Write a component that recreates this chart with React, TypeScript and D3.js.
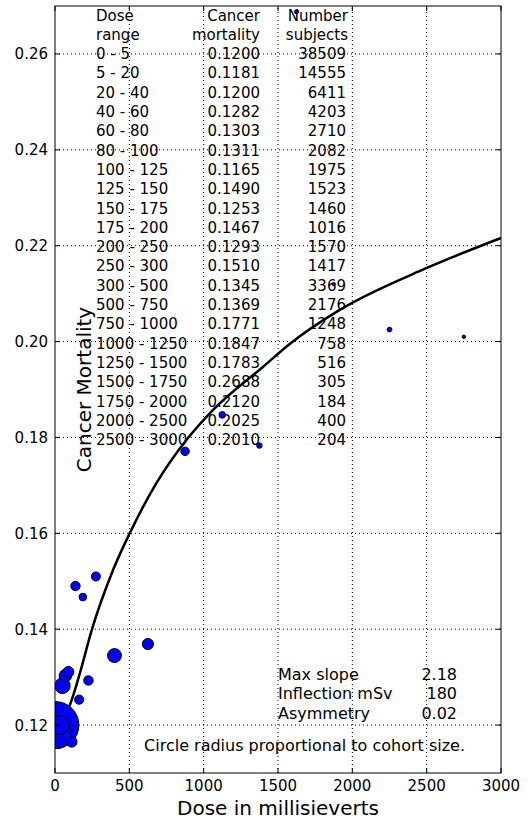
import * as d3 from "d3";
import React, { useEffect, useRef } from "react";

// dose bins and cohort table
const doseRanges = [
  "0 - 5", "5 - 20", "20 - 40", "40 - 60", "60 - 80", "80 - 100", "100 - 125",
  "125 - 150", "150 - 175", "175 - 200", "200 - 250", "250 - 300", "300 - 500",
  "500 - 750", "750 - 1000", "1000 - 1250", "1250 - 1500", "1500 - 1750",
  "1750 - 2000", "2000 - 2500", "2500 - 3000",
];
const meanDose = [
  2.5, 12.5, 30, 50, 70, 90, 112.5, 137.5, 162.5, 187.5, 225, 275, 400, 625,
  875, 1125, 1375, 1625, 1875, 2250, 2750,
];
const mortality = [
  0.12, 0.1181, 0.12, 0.1282, 0.1303, 0.1311, 0.1165, 0.149, 0.1253, 0.1467,
  0.1293, 0.151, 0.1345, 0.1369, 0.1771, 0.1847, 0.1783, 0.2688, 0.212, 0.2025,
  0.201,
];
const subjects = [
  38509, 14555, 6411, 4203, 2710, 2082, 1975, 1523, 1460, 1016, 1570, 1417,
  3369, 2176, 1248, 758, 516, 305, 184, 400, 204,
];

// fitted curve
const fitDose = [0, 50, 112, 168, 247, 390, 504, 683, 885, 1062, 1398, 1579, 1915, 2497, 3000];
const fitMort = [
  0.12, 0.1208, 0.1252, 0.1309, 0.1398, 0.1523, 0.1601, 0.1705, 0.1795, 0.1857,
  0.1947, 0.1995, 0.2066, 0.2153, 0.2216,
];

const xTicks = [0, 500, 1000, 1500, 2000, 2500, 3000];
const yTicks = [0.12, 0.14, 0.16, 0.18, 0.2, 0.22, 0.24, 0.26];

const statLabels = ["Max slope", "Inflection mSv", "Asymmetry"];
const statValues = ["2.18", "180", "0.02"];

const FONT = "'DejaVu Sans', 'Bitstream Vera Sans', sans-serif";

export default function App() {
  const svgRef = useRef<SVGSVGElement>(null);
  const width = 532;
  const height = 821;
  const marginLeft = 55;
  const marginRight = 31;
  const marginTop = 6;
  const marginBottom = 48;

  useEffect(() => {
    if (!svgRef.current) return;
    const svg = d3.select(svgRef.current);
    svg.selectAll("*").remove();

    const x = d3.scaleLinear([0, 3000], [marginLeft, width - marginRight]);
    const y = d3.scaleLinear([0.11, 0.27], [height - marginBottom, marginTop]);
    const [x0, x1] = x.range();
    const [y0, y1] = y.range();

    svg
      .append("defs")
      .append("clipPath")
      .attr("id", "plot-clip")
      .append("rect")
      .attr("x", x0)
      .attr("y", y1)
      .attr("width", x1 - x0)
      .attr("height", y0 - y1);

    // grid
    const grid = svg.append("g").attr("stroke", "#000").attr("stroke-dasharray", "1,3");
    xTicks.slice(1, -1).forEach((t) => {
      grid.append("line").attr("x1", x(t)).attr("x2", x(t)).attr("y1", y0).attr("y2", y1);
    });
    yTicks.forEach((t) => {
      grid.append("line").attr("x1", x0).attr("x2", x1).attr("y1", y(t)).attr("y2", y(t));
    });

    // table text
    const table = svg.append("g").style("font-family", FONT).attr("font-size", 15).attr("fill", "#000");
    const lineH = 19.3;
    const base = 20.5;
    const colDose = 96;
    const colMort = 260;
    const colNum = 347;
    ["Dose", "range"].forEach((s, i) =>
      table.append("text").attr("x", colDose).attr("y", base + i * lineH).text(s)
    );
    ["Cancer", "mortality"].forEach((s, i) =>
      table.append("text").attr("x", colMort).attr("y", base + i * lineH).attr("text-anchor", "end").text(s)
    );
    ["Number", "subjects"].forEach((s, i) =>
      table.append("text").attr("x", colNum + 1).attr("y", base + i * lineH).attr("text-anchor", "end").text(s)
    );
    doseRanges.forEach((r, i) => {
      const yy = base + (i + 2) * lineH;
      table.append("text").attr("x", colDose).attr("y", yy).text(r);
      table.append("text").attr("x", colMort).attr("y", yy).attr("text-anchor", "end").text(mortality[i].toFixed(4));
      table.append("text").attr("x", colNum - 1).attr("y", yy).attr("text-anchor", "end").text(String(subjects[i]));
    });

    // fit stats
    const notes = svg.append("g").style("font-family", FONT).attr("font-size", 16).attr("fill", "#000");
    statLabels.forEach((s, i) => {
      const yy = 680 + i * lineH;
      notes.append("text").attr("x", 278).attr("y", yy).text(s);
      notes.append("text").attr("x", 457).attr("y", yy).attr("text-anchor", "end").text(statValues[i]);
    });
    notes
      .append("text")
      .attr("x", 465)
      .attr("y", 751)
      .attr("text-anchor", "end")
      .text("Circle radius proportional to cohort size.");

    // fitted curve
    const line = d3
      .line<number>()
      .x((_, i) => x(fitDose[i]))
      .y((d) => y(d))
      .curve(d3.curveMonotoneX);
    svg
      .append("path")
      .attr("d", line(fitMort))
      .attr("fill", "none")
      .attr("stroke", "#000")
      .attr("stroke-width", 2.5);

    // cohort circles, area ~ cohort size
    const r = d3.scaleSqrt([0, 38509], [0, 23.5]);
    svg
      .append("g")
      .attr("clip-path", "url(#plot-clip)")
      .selectAll("circle")
      .data(meanDose)
      .join("circle")
      .attr("cx", (d) => x(d))
      .attr("cy", (_, i) => y(mortality[i]))
      .attr("r", (_, i) => r(subjects[i]))
      .attr("fill", "#0000ff")
      .attr("stroke", "#000")
      .attr("stroke-width", 1);

    // frame + ticks
    svg
      .append("rect")
      .attr("x", x0)
      .attr("y", y1)
      .attr("width", x1 - x0)
      .attr("height", y0 - y1)
      .attr("fill", "none")
      .attr("stroke", "#000")
      .attr("stroke-width", 1);

    const tk = svg.append("g").attr("stroke", "#000");
    const tl = 5;
    xTicks.forEach((t) => {
      tk.append("line").attr("x1", x(t)).attr("x2", x(t)).attr("y1", y0).attr("y2", y0 - tl);
      tk.append("line").attr("x1", x(t)).attr("x2", x(t)).attr("y1", y1).attr("y2", y1 + tl);
    });
    yTicks.forEach((t) => {
      tk.append("line").attr("x1", x0).attr("x2", x0 + tl).attr("y1", y(t)).attr("y2", y(t));
      tk.append("line").attr("x1", x1).attr("x2", x1 - tl).attr("y1", y(t)).attr("y2", y(t));
    });

    const labels = svg.append("g").style("font-family", FONT).attr("font-size", 15).attr("fill", "#000");
    xTicks.forEach((t) => {
      labels.append("text").attr("x", x(t)).attr("y", y0 + 18).attr("text-anchor", "middle").text(String(t));
    });
    yTicks.forEach((t) => {
      labels.append("text").attr("x", x0 - 7).attr("y", y(t) + 5.5).attr("text-anchor", "end").text(t.toFixed(2));
    });

    svg
      .append("text")
      .attr("x", (x0 + x1) / 2)
      .attr("y", 815)
      .attr("text-anchor", "middle")
      .style("font-family", FONT)
      .attr("font-size", 20)
      .text("Dose in millisieverts");

    svg
      .append("text")
      .attr("transform", `translate(91,${(y0 + y1) / 2}) rotate(-90)`)
      .attr("text-anchor", "middle")
      .style("font-family", FONT)
      .attr("font-size", 20)
      .text("Cancer Mortality");
  }, []);

  return (
    <svg
      ref={svgRef}
      width={width}
      height={height}
      style={{ position: "absolute", left: 0, top: 0, background: "#fff" }}
    />
  );
}
